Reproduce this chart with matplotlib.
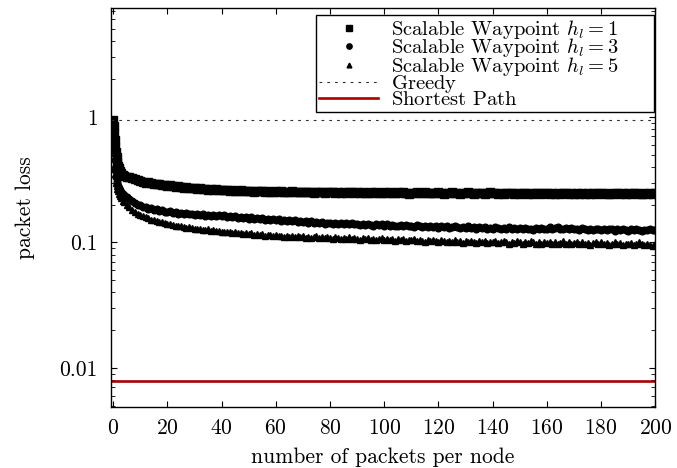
import numpy as np
import matplotlib
matplotlib.use("Agg")
import matplotlib.pyplot as plt
from matplotlib.ticker import LogLocator, NullFormatter

plt.rcParams["font.family"] = "serif"
plt.rcParams["font.serif"] = ["cmr10", "DejaVu Serif"]
plt.rcParams["mathtext.fontset"] = "cm"
plt.rcParams["axes.formatter.use_mathtext"] = True

# ---------------------------------------
# Data
# first points are sampled densely, then one per packet
# ---------------------------------------
packets = np.concatenate([
    [0, 0.2, 0.4, 0.6, 0.8, 1.0, 1.25, 1.5, 1.75, 2.0, 2.5, 3.0, 3.5],
    np.arange(4, 201),
])

loss_h1 = [
    0.95, 0.84, 0.74, 0.65, 0.58, 0.53, 0.48, 0.44, 0.41, 0.39, 0.37, 0.355, 0.345,
    0.34, 0.335, 0.33, 0.325, 0.32, 0.315,
    0.31, 0.305, 0.30, 0.302, 0.296, 0.293, 0.29, 0.292, 0.288, 0.285,
    0.283, 0.286, 0.28, 0.278, 0.281, 0.276, 0.274, 0.277, 0.272, 0.27,
    0.272, 0.268, 0.27, 0.266, 0.268, 0.264, 0.267, 0.262, 0.265, 0.263,
    0.26, 0.264, 0.261, 0.258, 0.262, 0.259, 0.257, 0.261, 0.258, 0.256,
    0.259, 0.257, 0.254, 0.258, 0.255, 0.257, 0.253, 0.256, 0.254, 0.252,
    0.255, 0.253, 0.256, 0.252, 0.254, 0.251, 0.255, 0.253, 0.25, 0.254,
    0.252, 0.25, 0.253, 0.251, 0.249, 0.252, 0.25, 0.253, 0.248, 0.251,
    0.253, 0.25, 0.248, 0.252, 0.249, 0.251, 0.247, 0.25, 0.252, 0.248,
    0.25, 0.247, 0.251, 0.249, 0.246, 0.25, 0.248, 0.251, 0.247, 0.249,
    0.252, 0.248, 0.25, 0.246, 0.249, 0.251, 0.247, 0.25, 0.248, 0.245,
    0.249, 0.247, 0.25, 0.246, 0.248, 0.251, 0.247, 0.249, 0.246, 0.248,
    0.25, 0.247, 0.245, 0.249, 0.247, 0.25, 0.246, 0.248, 0.245, 0.249,
    0.247, 0.25, 0.246, 0.244, 0.248, 0.246, 0.249, 0.245, 0.247, 0.25,
    0.246, 0.248, 0.244, 0.247, 0.245, 0.249, 0.246, 0.248, 0.244, 0.247,
    0.245, 0.248, 0.246, 0.243, 0.247, 0.245, 0.249, 0.246, 0.244, 0.248,
    0.246, 0.244, 0.248, 0.245, 0.247, 0.243, 0.246, 0.249, 0.245, 0.247,
    0.244, 0.247, 0.245, 0.248, 0.244, 0.246, 0.243, 0.247, 0.245, 0.248,
    0.246, 0.244, 0.247, 0.245, 0.243, 0.246, 0.248, 0.244, 0.246, 0.245,
    0.247, 0.244, 0.246, 0.248, 0.245, 0.243, 0.246, 0.244, 0.247, 0.245,
    0.246,
]

loss_h3 = [
    0.90, 0.72, 0.56, 0.45, 0.38, 0.33, 0.305, 0.29, 0.28, 0.27, 0.26, 0.25, 0.245,
    0.238, 0.23, 0.22, 0.212, 0.205, 0.20,
    0.198, 0.192, 0.19, 0.186, 0.188, 0.182, 0.184, 0.178, 0.18, 0.176,
    0.174, 0.178, 0.172, 0.175, 0.17, 0.173, 0.168, 0.171, 0.167, 0.17,
    0.166, 0.169, 0.164, 0.168, 0.163, 0.166, 0.162, 0.165, 0.161, 0.164,
    0.162, 0.165, 0.16, 0.163, 0.158, 0.161, 0.157, 0.16, 0.156, 0.159,
    0.155, 0.158, 0.154, 0.157, 0.153, 0.156, 0.152, 0.155, 0.151, 0.154,
    0.15, 0.153, 0.149, 0.152, 0.148, 0.151, 0.147, 0.15, 0.146, 0.149,
    0.145, 0.148, 0.144, 0.147, 0.143, 0.146, 0.142, 0.145, 0.141, 0.144,
    0.143, 0.14, 0.144, 0.141, 0.143, 0.139, 0.142, 0.14, 0.143, 0.139,
    0.141, 0.138, 0.14, 0.137, 0.141, 0.138, 0.136, 0.139, 0.137, 0.14,
    0.136, 0.139, 0.135, 0.138, 0.136, 0.134, 0.137, 0.135, 0.138, 0.134,
    0.136, 0.133, 0.137, 0.134, 0.132, 0.135, 0.133, 0.136, 0.132, 0.134,
    0.131, 0.134, 0.132, 0.135, 0.131, 0.133, 0.136, 0.132, 0.13, 0.133,
    0.131, 0.134, 0.13, 0.133, 0.129, 0.132, 0.13, 0.133, 0.129, 0.131,
    0.129, 0.132, 0.13, 0.128, 0.131, 0.129, 0.132, 0.128, 0.13, 0.127,
    0.13, 0.128, 0.131, 0.127, 0.129, 0.126, 0.13, 0.128, 0.131, 0.127,
    0.129, 0.132, 0.128, 0.13, 0.133, 0.129, 0.127, 0.13, 0.128, 0.131,
    0.127, 0.129, 0.126, 0.13, 0.128, 0.125, 0.128, 0.126, 0.129, 0.127,
    0.125, 0.128, 0.126, 0.129, 0.127, 0.124, 0.127, 0.125, 0.128, 0.126,
    0.124, 0.127, 0.125, 0.128, 0.126, 0.124, 0.126, 0.125, 0.127, 0.125,
    0.126,
]

loss_h5 = [
    0.88, 0.68, 0.52, 0.42, 0.35, 0.30, 0.28, 0.265, 0.255, 0.245, 0.235, 0.225, 0.215,
    0.21, 0.20, 0.19, 0.182, 0.176, 0.17,
    0.166, 0.162, 0.158, 0.156, 0.152, 0.15, 0.148, 0.146, 0.145, 0.143,
    0.141, 0.139, 0.138, 0.136, 0.135, 0.134, 0.133, 0.131, 0.132, 0.13,
    0.129, 0.127, 0.128, 0.126, 0.125, 0.127, 0.124, 0.125, 0.123, 0.124,
    0.122, 0.121, 0.12, 0.122, 0.119, 0.12, 0.118, 0.119, 0.117, 0.118,
    0.116, 0.118, 0.115, 0.117, 0.114, 0.116, 0.113, 0.115, 0.114, 0.112,
    0.114, 0.112, 0.113, 0.111, 0.113, 0.11, 0.112, 0.111, 0.113, 0.11,
    0.112, 0.109, 0.111, 0.108, 0.11, 0.112, 0.109, 0.111, 0.108, 0.11,
    0.109, 0.107, 0.11, 0.108, 0.106, 0.109, 0.107, 0.11, 0.106, 0.108,
    0.107, 0.105, 0.108, 0.106, 0.109, 0.105, 0.107, 0.104, 0.106, 0.108,
    0.105, 0.107, 0.104, 0.106, 0.103, 0.106, 0.104, 0.107, 0.103, 0.105,
    0.104, 0.106, 0.102, 0.105, 0.103, 0.101, 0.104, 0.102, 0.105, 0.103,
    0.101, 0.104, 0.102, 0.1, 0.103, 0.101, 0.104, 0.1, 0.102, 0.099,
    0.102, 0.1, 0.103, 0.101, 0.099, 0.102, 0.1, 0.103, 0.099, 0.101,
    0.1, 0.102, 0.099, 0.101, 0.103, 0.1, 0.098, 0.101, 0.099, 0.102,
    0.1, 0.098, 0.101, 0.099, 0.102, 0.1, 0.097, 0.1, 0.098, 0.101,
    0.099, 0.101, 0.098, 0.1, 0.097, 0.099, 0.102, 0.098, 0.1, 0.097,
    0.099, 0.101, 0.098, 0.1, 0.097, 0.099, 0.096, 0.099, 0.101, 0.098,
    0.1, 0.097, 0.099, 0.096, 0.098, 0.1, 0.097, 0.099, 0.096, 0.098,
    0.097, 0.099, 0.096, 0.098, 0.1, 0.097, 0.095, 0.098, 0.096, 0.094,
    0.097,
]

greedy_loss = 0.95
shortest_loss = 0.0079

# ---------------------------------------
# Plot
# ---------------------------------------
fs = 15.5
fig = plt.figure(figsize=(6.77, 4.68), dpi=100)
ax = fig.add_axes([0.164, 0.131, 0.804, 0.852])

ax.plot(packets, loss_h1, ls="none", marker="s", ms=5.3, color="black",
        label=r"Scalable Waypoint $h_l = 1$")
ax.plot(packets, loss_h3, ls="none", marker="o", ms=4.8, color="black",
        label=r"Scalable Waypoint $h_l = 3$")
ax.plot(packets, loss_h5, ls="none", marker="^", ms=4.3, color="black",
        label=r"Scalable Waypoint $h_l = 5$")
# trailing thin math space keeps every legend row the same height
ax.axhline(greedy_loss, color="#333333", lw=0.8, ls=(0, (2.5, 4.5)),
           label=r"Greedy$\,$")
ax.axhline(shortest_loss, color="#aa0000", lw=1.9, label=r"Shortest Path$\,$")

ax.set_yscale("log")
ax.set_xlim(-0.8, 200)
ax.set_ylim(0.0049, 7.4)
ax.set_xticks(range(0, 201, 20))
ax.set_yticks([0.01, 0.1, 1])
ax.set_yticklabels(["0.01", "0.1", "1"])
ax.yaxis.set_minor_locator(LogLocator(base=10, subs=np.arange(2, 10)))
ax.yaxis.set_minor_formatter(NullFormatter())

ax.tick_params(which="both", direction="in", top=True, right=True, labelsize=fs)
ax.tick_params(which="major", length=4.5, width=0.8)
ax.tick_params(which="minor", length=3, width=0.6)
ax.tick_params(axis="x", pad=8.5)
ax.tick_params(axis="y", pad=9.5)
for s in ax.spines.values():
    s.set_linewidth(1.0)

ax.set_xlabel("number of packets per node", fontsize=fs, labelpad=7)
ax.set_ylabel("packet loss", fontsize=fs, labelpad=18)

leg = ax.legend(loc="upper right", bbox_to_anchor=(0.376, 0.0, 0.622, 0.983),
                mode="expand", fontsize=14.8, frameon=True, fancybox=False,
                edgecolor="black", framealpha=1, borderpad=0.15,
                labelspacing=-0.22, handlelength=2.9, handletextpad=0.6,
                borderaxespad=0.0, markerscale=0.8)
leg.get_frame().set_linewidth(1.0)

fig.savefig("out.png", dpi=100)
